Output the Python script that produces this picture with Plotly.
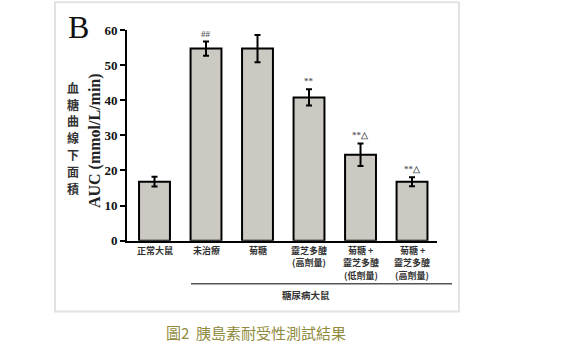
import plotly.graph_objects as go

W, H = 576, 355

categories = ["正常大鼠", "未治療", "菊糖", "靈芝多醣<br>(高劑量)",
              "菊糖 +<br>靈芝多醣<br>(低劑量)", "菊糖 +<br>靈芝多醣<br>(高劑量)"]
auc_values = [16.8, 54.7, 54.7, 40.8, 24.5, 16.8]
auc_errors = [1.4, 2.0, 3.9, 2.3, 3.2, 1.3]
sig_marks = ["", "##", "", "**", "**△", "**△"]
group_label = "糖尿病大鼠"
y_title_cjk = "血糖曲線下面積"
y_title_en = "AUC (mmol/L/min)"
panel_letter = "B"
caption = "圖2  胰島素耐受性測試結果"
y_ticks = [0, 10, 20, 30, 40, 50, 60]


def px_x(p):
    return p / W


def px_y(p):
    return 1 - p / H


xs = list(range(len(categories)))

fig = go.Figure()
fig.add_trace(go.Bar(
    x=xs, y=auc_values, width=0.6,
    marker=dict(color="#cbc9c2", line=dict(color="black", width=2)),
    error_y=dict(type="data", array=auc_errors, visible=True,
                 color="black", thickness=2, width=3),
    showlegend=False, hoverinfo="skip",
))

serif = "Liberation Serif, Times New Roman, serif"
cjk = "Noto Sans CJK TC, sans-serif"

annotations = []
# category labels, one annotation per line
for i, lab in enumerate(categories):
    for j, line in enumerate(lab.split("<br>")):
        annotations.append(dict(
            x=i, xref="x", y=px_y(254 + 13.2 * j), yref="paper",
            xanchor="center", yanchor="middle",
            text=line, showarrow=False,
            font=dict(family=cjk, size=9, color="#333333", weight="bold"),
        ))
# significance marks
for i, m in enumerate(sig_marks):
    if m:
        annotations.append(dict(
            x=i, xref="x", y=auc_values[i] + auc_errors[i], yref="y",
            xanchor="center", yanchor="bottom", yshift=1, text=m,
            showarrow=False,
            font=dict(family=serif, size=9, color="#666666", weight="bold"),
        ))
# group label
annotations.append(dict(
    x=px_x(306), xref="paper", y=px_y(301), yref="paper",
    xanchor="center", yanchor="middle",
    text=group_label, showarrow=False,
    font=dict(family=cjk, size=9.5, color="#333333", weight="bold"),
))
# y title (stacked CJK characters, one annotation each)
for k, ch in enumerate(y_title_cjk):
    annotations.append(dict(
        x=px_x(73), xref="paper", y=px_y(83.7 + 17.6 * k), yref="paper",
        xanchor="center", yanchor="middle",
        text=ch, showarrow=False,
        font=dict(family=cjk, size=12, color="#333333", weight="bold"),
    ))
annotations.append(dict(
    x=px_x(95), xref="paper", y=px_y(140), yref="paper",
    xanchor="center", yanchor="middle",
    text=y_title_en, textangle=-90, showarrow=False,
    font=dict(family=serif, size=16, color="#222222", weight="bold"),
))
# panel letter
annotations.append(dict(
    x=px_x(78), xref="paper", y=px_y(21), yref="paper",
    xanchor="center", yanchor="middle",
    text=panel_letter, showarrow=False,
    font=dict(family=serif, size=32, color="#111111"),
))
# caption
annotations.append(dict(
    x=px_x(256), xref="paper", y=px_y(340), yref="paper",
    xanchor="center", yanchor="middle",
    text=caption, showarrow=False,
    font=dict(family=cjk, size=15, color="#8f8a3c"),
))

shapes = [
    # panel border
    dict(type="rect", xref="paper", yref="paper",
         x0=px_x(55), x1=px_x(459), y0=px_y(318), y1=px_y(-5),
         line=dict(color="#e2e2e2", width=2), layer="below"),
    # group bracket line
    dict(type="line", xref="paper", yref="paper",
         x0=px_x(191), x1=px_x(452), y0=px_y(289), y1=px_y(289),
         line=dict(color="#555555", width=1.5)),
]

fig.update_layout(
    width=W, height=H,
    margin=dict(l=0, r=0, t=0, b=0),
    paper_bgcolor="white", plot_bgcolor="white",
    annotations=annotations, shapes=shapes,
    bargap=0.4,
    xaxis=dict(domain=[px_x(127), px_x(437)], range=[-0.534, 5.485],
               showticklabels=False, ticks="", showgrid=False,
               zeroline=False, showline=True, linecolor="black",
               linewidth=2, fixedrange=True),
    yaxis=dict(domain=[px_y(244), px_y(24)], range=[0, 60],
               tickvals=y_ticks, ticks="outside", ticklen=5, tickwidth=2,
               tickcolor="black", showgrid=False, zeroline=False,
               showline=True, linecolor="black", linewidth=2,
               tickfont=dict(family=serif, size=13, color="#111111",
                             weight="bold"),
               fixedrange=True),
)

fig.write_html("out.html")
